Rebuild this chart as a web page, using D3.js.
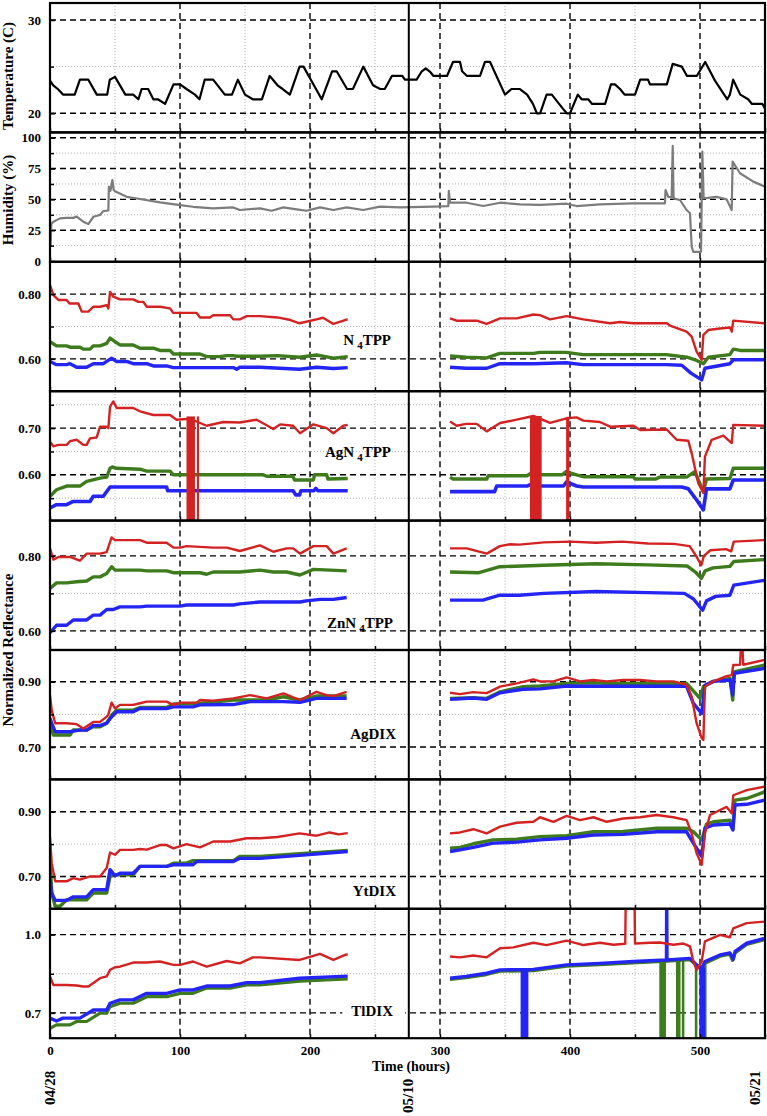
<!DOCTYPE html>
<html><head><meta charset="utf-8">
<script src="https://cdn.jsdelivr.net/npm/d3@7"></script>
<style>
body{margin:0;background:#fff}
text{font-family:"Liberation Serif","Times New Roman",serif;font-weight:bold;fill:#000}
</style>
</head><body>
<svg id="chart" width="767" height="1116"></svg>
<script>
// ---------------- DATA ----------------
const hoursMajor = [0,100,200,300,400,500];
const hoursMinor = [50,150,250,350,450,550];
const dateLabels = ['04/28','05/10','05/21'];
const dateHours = [0,275,542];
const splitHour = 276;

const tempTicks = [20,30], tempMinor = [25];
const humTicks = [0,25,50,75,100], humMinor = [12.5,37.5,62.5,87.5];
const n4Ticks = [0.60,0.80], n4Minor = [0.70];
const agn4Ticks = [0.60,0.70], agn4Minor = [0.55,0.65,0.75];
const znTicks = [0.60,0.80], znMinor = [0.70];
const agdixTicks = [0.70,0.90], agdixMinor = [0.80];
const ytTicks = [0.70,0.90], ytMinor = [0.80];
const tlTicks = [0.7,1.0], tlMinor = [0.85];

const temperature = [[0,23.5],[2.5,23.0],[6,22.6],[10,22.0],[19,22.0],[23,23.6],[29.5,23.6],[36,22.0],[44,22.0],[46,23.6],[50,23.9],[58,22.0],[64,22.0],[68,21.5],[70.5,22.6],[75.5,22.6],[79.5,21.5],[83,21.5],[88.5,21.0],[95,23.1],[100,23.1],[105,22.6],[111.5,22.0],[115,21.5],[119,23.6],[125.5,23.6],[134.5,22.0],[140,22.0],[144.5,23.6],[150,22.0],[156,21.5],[163,21.5],[169,24.0],[171.5,23.6],[175,23.0],[179,22.6],[184.5,22.0],[192,25.0],[195,25.0],[209,21.5],[217,24.5],[220.5,24.5],[228.5,22.6],[233,22.6],[241,25.0],[248.5,23.0],[254,22.6],[257.5,22.6],[263,24.0],[271,24.0],[273,23.6],[282,23.6],[286,24.5],[289,24.8],[292,24.5],[295,24.0],[305.4,24.0],[310,25.5],[315.4,25.5],[317,24.5],[320.8,24.0],[330.8,24.0],[334.6,25.5],[338.5,25.5],[350,22.0],[355,22.6],[361.5,22.6],[367,22.0],[371.5,21.0],[374.5,20.0],[377,20.0],[382,22.0],[386,22.0],[394.5,20.5],[397.5,20.0],[400,20.0],[406,22.0],[409,21.5],[414,21.5],[417,21.0],[427,21.0],[431.5,23.1],[434.5,23.1],[438.5,22.6],[442,22.0],[450,22.0],[454,23.6],[460,23.6],[461.5,23.1],[474.5,23.1],[479,25.3],[486,25.0],[490,24.0],[497.5,24.0],[504,25.5],[511.5,23.5],[521,21.5],[523,22.0],[525.5,23.6],[531,22.0],[537,21.5],[540,21.0],[548,21.0],[550,20.5]];

const humidity = [[0,33],[0.5,12],[1,30],[2.6,31.9],[7.7,34.6],[12.8,35],[17.9,35],[20.5,36],[25.6,31.9],[29.5,30],[33.3,35.9],[38.5,37.3],[41,40.5],[44.9,41],[45.3,60.3],[46.5,57],[48,65.7],[49,57.6],[50,56.6],[59,52.1],[69.2,50.3],[84.6,47.6],[100,45.4],[110,44],[125.6,42.7],[141,43.5],[146,41.4],[161.5,42.7],[170.5,40.8],[179.5,43.5],[189.7,41.9],[197.4,40.8],[207.7,43.5],[218,41.4],[228.2,43.5],[241,41.4],[253.8,44.1],[269.2,43.5],[294.9,44.1],[306.4,44.6],[306.8,57],[307.7,47.3],[320.5,47.3],[333.3,44.6],[346.2,47.3],[361.5,46],[377,45.5],[397.4,46.5],[405,44.6],[423,46],[448.7,46.8],[473,46.8],[473.5,57.6],[475.6,52],[478.2,51.5],[479,93.3],[479.7,50.8],[484.6,49.5],[489.7,41.4],[492.3,38.7],[493.6,11.6],[494.9,7.5],[500.8,7.5],[501.8,88.7],[502.8,50.8],[512.8,52],[520.5,50],[524.4,41.4],[525.1,80.6],[530.8,71.2],[541,64.4],[550,60.3]];

// N4TPP
const n4Red = [[0,0.828],[2.6,0.797],[6.4,0.782],[12.8,0.782],[15,0.771],[21.8,0.771],[24.4,0.746],[29.5,0.746],[33.3,0.761],[38.5,0.761],[43.6,0.766],[44.9,0.756],[46.2,0.807],[48.7,0.792],[53.8,0.784],[64,0.784],[68,0.776],[71.8,0.776],[74.4,0.761],[84.6,0.761],[92.3,0.756],[94.9,0.742],[112.8,0.742],[115.4,0.728],[123,0.728],[125.6,0.735],[138.5,0.735],[141,0.722],[146,0.722],[151.3,0.732],[161.5,0.732],[175,0.728],[185,0.72],[192,0.710],[205,0.722],[210,0.727],[218,0.708],[227,0.72],[229,0.722],[268,null],[307.7,0.725],[312.8,0.718],[328.2,0.718],[335.9,0.708],[346.2,0.725],[359,0.725],[371.8,0.737],[376.9,0.735],[384.6,0.722],[397.4,0.732],[410.3,0.722],[430.8,0.710],[438.5,0.714],[448.7,0.710],[474.4,0.710],[476.9,0.703],[489.7,0.684],[493.6,0.669],[497.4,0.622],[501.3,0.597],[502.6,0.674],[506.4,0.689],[515.4,0.694],[523.1,0.697],[524.4,0.684],[525.6,0.718],[550,0.710]];
const n4Green = [[0,0.653],[5,0.640],[12.8,0.640],[15.4,0.636],[23,0.636],[25.6,0.630],[30.8,0.630],[33.3,0.640],[38.5,0.640],[43.6,0.648],[46.2,0.664],[50,0.653],[53.8,0.643],[64,0.643],[69.2,0.633],[79.5,0.633],[84.6,0.626],[92.3,0.626],[94.9,0.615],[115.4,0.615],[120.5,0.607],[130.8,0.607],[135.9,0.610],[141,0.610],[143.6,0.608],[161.5,0.608],[175,0.61],[192,0.605],[205,0.612],[218,0.602],[229,0.607],[268,null],[307.7,0.609],[320,0.605],[336,0.603],[346,0.617],[372,0.617],[377,0.620],[397,0.620],[410,0.613],[474,0.613],[490,0.605],[497.4,0.595],[502.6,0.585],[506.4,0.605],[523,0.613],[525.6,0.630],[531,0.626],[550,0.626]];
const n4Blue = [[0,0.592],[5,0.582],[12.8,0.582],[15.4,0.585],[20.5,0.574],[28.2,0.574],[33.3,0.585],[41,0.585],[43.6,0.592],[47.4,0.602],[51,0.592],[59,0.592],[64,0.585],[74.4,0.585],[79.5,0.578],[89.7,0.578],[94.9,0.573],[141,0.573],[143.6,0.568],[146,0.574],[161.5,0.574],[192,0.568],[205,0.574],[218,0.570],[229,0.573],[268,null],[307.7,0.574],[320,0.571],[336,0.571],[346,0.585],[372,0.585],[397,0.588],[410,0.582],[474,0.582],[486,0.580],[493,0.556],[501.3,0.535],[503.8,0.571],[523,0.585],[525.6,0.597],[550,0.597]];

// AgN4TPP
const agn4Red = [[0,0.671],[2.6,0.661],[6.4,0.664],[12.8,0.664],[15.4,0.672],[20.5,0.675],[25.6,0.664],[28.2,0.664],[30.8,0.678],[35.9,0.680],[38.5,0.703],[43.6,0.703],[44.9,0.700],[46.2,0.746],[48.7,0.757],[51.3,0.743],[64,0.743],[69.2,0.736],[79.5,0.728],[92.3,0.728],[97.4,0.718],[107.7,0.720],[120.5,0.705],[133.3,0.713],[146,0.712],[159,0.718],[171.8,0.698],[177,0.708],[187,0.705],[192.3,0.689],[202.6,0.708],[212.8,0.700],[218,0.689],[225.6,0.705],[229,0.707],[268,null],[307.7,0.714],[312.8,0.705],[320,0.709],[328.2,0.709],[335.9,0.693],[346.2,0.711],[359,0.718],[371.8,0.726],[384.6,0.711],[397.4,0.721],[405,0.723],[410.3,0.716],[423,0.713],[430.8,0.703],[448.7,0.705],[454,0.696],[474.4,0.697],[482,0.675],[491,0.673],[493.6,0.646],[498.7,0.582],[502.6,0.561],[503.8,0.639],[509,0.675],[517.9,0.684],[524.4,0.668],[525.6,0.707],[550,0.705]];
const agn4Green = [[0,0.554],[5,0.568],[12.8,0.576],[23,0.576],[28.2,0.586],[38.5,0.593],[43.6,0.595],[46.2,0.614],[48,0.617],[51,0.614],[69.2,0.612],[74.4,0.608],[92.3,0.608],[94.9,0.600],[164,0.600],[166.7,0.597],[187,0.597],[188,0.589],[202.6,0.589],[203.5,0.600],[212.8,0.600],[213.8,0.591],[229,0.592],[268,null],[307.7,0.595],[310,0.591],[336,0.591],[337,0.598],[367,0.598],[371.8,0.607],[376.9,0.600],[394,0.600],[397,0.607],[405,0.600],[410.3,0.596],[448.7,0.596],[450,0.591],[466,0.591],[469,0.595],[489.7,0.595],[496,0.607],[502.6,0.564],[505,0.591],[523,0.592],[525.6,0.614],[550,0.614]];
const agn4Blue = [[0,0.529],[5,0.536],[12.8,0.536],[17.9,0.543],[30.8,0.543],[33.3,0.554],[41,0.554],[46.2,0.574],[89.7,0.574],[90.5,0.566],[187,0.566],[189,0.557],[192,0.557],[193,0.566],[203,0.566],[204.5,0.571],[206,0.566],[229,0.566],[268,null],[307.7,0.564],[342,0.564],[343.6,0.576],[367,0.576],[371.8,0.582],[376.9,0.576],[395,0.576],[397.4,0.585],[405,0.576],[410.3,0.574],[486,0.574],[491,0.570],[497.4,0.546],[502.6,0.525],[505,0.570],[523,0.570],[525.6,0.589],[550,0.589]];
const agn4RedDrops = [[105,111.5,0.725],[113,114.6,0.725],[369.2,378.2,0.726],[397,399.5,0.724]];

// ZnN4TPP
const znRed = [[0,0.820],[2.6,0.790],[6.4,0.797],[15.4,0.797],[23,0.787],[28.2,0.806],[38.5,0.806],[43.6,0.810],[44.9,0.824],[47.4,0.849],[50,0.842],[69.2,0.842],[74.4,0.835],[89.7,0.835],[94.9,0.822],[100,0.822],[105,0.826],[115.4,0.824],[125.6,0.822],[136,0.822],[146,0.813],[161.5,0.828],[171.8,0.811],[182,0.820],[187,0.820],[192.3,0.806],[202.6,0.826],[212.8,0.826],[218,0.806],[228.2,0.820],[268,null],[307.7,0.820],[320.5,0.820],[336,0.806],[346,0.826],[354,0.831],[361,0.830],[380,0.836],[400,0.838],[420,0.835],[440,0.838],[460,0.833],[480,0.832],[492,0.826],[497,0.800],[501,0.775],[503,0.800],[508,0.815],[520,0.818],[524,0.812],[526,0.838],[550,0.842]];
const znGreen = [[0,0.713],[5,0.728],[12.8,0.728],[20.5,0.731],[28.2,0.733],[33.3,0.744],[38.5,0.744],[43.6,0.753],[47.4,0.771],[50,0.762],[69.2,0.762],[74.4,0.760],[89.7,0.760],[94.9,0.755],[115.4,0.755],[120.5,0.751],[125.6,0.757],[146,0.757],[161.5,0.762],[171.8,0.757],[182,0.757],[192.3,0.749],[202.6,0.764],[228.2,0.760],[268,null],[307.7,0.757],[330,0.755],[346,0.771],[380,0.775],[420,0.779],[460,0.776],[490,0.773],[497,0.755],[501,0.740],[504,0.760],[510,0.768],[523,0.772],[526,0.785],[550,0.790]];
const znBlue = [[0,0.595],[5,0.615],[12.8,0.615],[17.9,0.629],[28.2,0.629],[33.3,0.642],[38.5,0.642],[43.6,0.657],[48.7,0.657],[53.8,0.664],[69.2,0.664],[74.4,0.666],[100,0.666],[105,0.669],[141,0.669],[146,0.672],[161.5,0.677],[192.3,0.677],[197,0.680],[207.7,0.684],[218,0.684],[228.2,0.689],[268,null],[307.7,0.682],[333,0.682],[346,0.695],[361,0.695],[380,0.700],[420,0.705],[460,0.702],[488,0.700],[495,0.685],[502,0.655],[505,0.680],[512,0.692],[523,0.695],[526,0.722],[550,0.735]];

// AgDIX
const agdixRed = [[0,0.859],[1.3,0.813],[4,0.773],[12.8,0.773],[20.5,0.770],[25.6,0.757],[33.3,0.777],[38.5,0.777],[43.6,0.793],[44.9,0.800],[47.4,0.836],[50,0.818],[53.8,0.829],[64,0.829],[69.2,0.834],[74.4,0.839],[89.7,0.839],[94.9,0.829],[100,0.836],[112.8,0.836],[115.4,0.844],[125.6,0.842],[141,0.849],[153.8,0.859],[166.7,0.849],[179.5,0.864],[192.3,0.844],[205,0.869],[212.8,0.859],[218,0.856],[228.2,0.869],[268,null],[307.7,0.866],[315.4,0.862],[325.6,0.868],[335.9,0.865],[346.2,0.885],[359,0.895],[371.8,0.907],[376.9,0.901],[387.2,0.901],[397.4,0.913],[407.7,0.901],[418,0.905],[428.2,0.901],[441,0.905],[453.8,0.905],[466.7,0.901],[479.5,0.901],[489.7,0.890],[493.6,0.854],[497.4,0.773],[501.3,0.727],[502.6,0.722],[503.8,0.885],[510.3,0.901],[520.5,0.917],[524.4,0.920],[525.6,0.951],[530.8,0.952],[532,1.05],[533.3,0.952],[550,0.967]];
const agdixGreen = [[0,0.773],[2.6,0.737],[15.4,0.737],[17.9,0.752],[28.2,0.752],[33.3,0.762],[38.5,0.762],[43.6,0.773],[47.4,0.798],[51.3,0.813],[64,0.813],[69.2,0.821],[89.7,0.821],[94.9,0.832],[105,0.832],[115.4,0.834],[141,0.844],[166.7,0.844],[179.5,0.854],[192.3,0.844],[205,0.856],[228.2,0.856],[268,null],[307.7,0.849],[325.6,0.851],[335.9,0.849],[346.2,0.869],[364,0.885],[376.9,0.887],[397.4,0.895],[415.4,0.897],[428.2,0.895],[489.7,0.895],[494.9,0.872],[500,0.849],[502.6,0.885],[510.3,0.901],[523.1,0.910],[525.2,0.844],[526,0.930],[550,0.951]];
const agdixBlue = [[0,0.788],[1.3,0.773],[4,0.747],[15.4,0.747],[23,0.752],[28.2,0.752],[33.3,0.766],[38.5,0.766],[43.6,0.773],[47.4,0.793],[51.3,0.808],[64,0.808],[69.2,0.818],[89.7,0.818],[94.9,0.823],[110,0.823],[115.4,0.829],[141,0.830],[153.8,0.839],[179.5,0.839],[192.3,0.837],[205,0.849],[228.2,0.849],[268,null],[307.7,0.846],[325.6,0.850],[335.9,0.846],[346.2,0.866],[364,0.877],[376.9,0.878],[397.4,0.887],[415.4,0.886],[489.7,0.886],[494.9,0.834],[501.3,0.803],[503.8,0.889],[510.3,0.901],[523.1,0.905],[525.2,0.859],[526.5,0.926],[550,0.941]];

// YtDIX
const ytRed = [[0,0.823],[1.3,0.741],[4,0.685],[12.8,0.685],[17.9,0.695],[23,0.690],[30.8,0.700],[38.5,0.700],[43.6,0.726],[46.2,0.774],[50,0.767],[53.8,0.782],[64,0.782],[69.2,0.785],[74.4,0.783],[84.6,0.797],[89.7,0.797],[94.9,0.787],[105,0.800],[115.4,0.790],[125.6,0.808],[138.5,0.808],[151.3,0.818],[161.5,0.818],[175,0.822],[192,0.833],[205,0.826],[215,0.836],[222,0.830],[229,0.834],[268,null],[307.7,0.833],[315.4,0.836],[325.6,0.846],[335.9,0.833],[346.2,0.854],[359,0.866],[371.8,0.869],[376.9,0.883],[387.2,0.869],[397.4,0.887],[407.7,0.874],[418,0.883],[428.2,0.869],[441,0.879],[453.8,0.883],[466.7,0.890],[479.5,0.883],[489.7,0.874],[493.6,0.833],[497.4,0.772],[501.3,0.736],[503.8,0.833],[507.7,0.890],[520.5,0.915],[524.4,0.895],[525.6,0.951],[536,0.967],[550,0.978]];
const ytGreen = [[0,0.762],[1.3,0.649],[4,0.608],[7.7,0.608],[12.8,0.628],[28.2,0.628],[33.3,0.649],[43.6,0.649],[46.2,0.700],[48.7,0.705],[64,0.705],[69.2,0.731],[89.7,0.731],[94.9,0.741],[105,0.741],[110,0.749],[141,0.749],[146,0.762],[161.5,0.762],[192,0.770],[229,0.780],[268,null],[307.7,0.787],[315.4,0.790],[325.6,0.801],[341,0.813],[359,0.815],[376.9,0.823],[397.4,0.826],[418,0.838],[441,0.839],[466.7,0.849],[489.7,0.849],[494.9,0.838],[501.3,0.813],[505,0.862],[510.3,0.869],[523.1,0.874],[525.3,0.845],[526.9,0.936],[536,0.941],[550,0.962]];
const ytBlue = [[0,0.695],[1.3,0.649],[4,0.626],[12.8,0.626],[17.9,0.637],[28.2,0.637],[33.3,0.659],[43.6,0.659],[46.2,0.721],[50,0.702],[53.8,0.710],[64,0.710],[69.2,0.731],[89.7,0.731],[94.9,0.736],[110,0.736],[112.8,0.746],[141,0.746],[146,0.756],[161.5,0.756],[192,0.765],[229,0.777],[268,null],[307.7,0.777],[315.4,0.782],[325.6,0.790],[341,0.803],[359,0.806],[376.9,0.813],[397.4,0.818],[418,0.828],[441,0.830],[466.7,0.838],[489.7,0.838],[494.9,0.803],[501.3,0.762],[503.8,0.849],[510.3,0.859],[523.1,0.862],[525.3,0.844],[526.9,0.921],[536,0.923],[550,0.936]];

// TlDIX
const tlRed = [[0,0.839],[2.6,0.807],[12.8,0.807],[20.5,0.805],[25.6,0.801],[29.5,0.801],[38.5,0.833],[43.6,0.840],[46.2,0.865],[50,0.875],[53.8,0.877],[64,0.893],[74.4,0.893],[84.6,0.897],[94.9,0.884],[100,0.884],[110,0.897],[120.5,0.877],[135.9,0.899],[146,0.890],[156,0.913],[161.5,0.913],[192,0.903],[207.7,0.926],[218,0.903],[227,0.922],[229,0.925],[268,null],[307.7,0.916],[315.4,0.913],[325.6,0.920],[335.9,0.913],[346.2,0.948],[356.4,0.951],[371.8,0.969],[382,0.960],[397.4,0.977],[410.3,0.960],[423,0.969],[433.3,0.961],[442.5,0.965],[443,1.2],[449.5,1.2],[450,0.966],[461.5,0.969],[469.2,0.970],[479.5,0.961],[487.2,0.966],[492.3,0.955],[494.9,0.897],[497.4,0.865],[501.3,0.897],[503.8,0.974],[515.4,0.999],[523,0.990],[525.6,1.024],[535.9,1.044],[550,1.050]];
const tlGreen = [[0,0.641],[5,0.654],[15.4,0.654],[20.5,0.667],[28.2,0.667],[38.5,0.699],[43.6,0.699],[46.2,0.724],[53.8,0.737],[64,0.737],[74.4,0.762],[89.7,0.762],[100,0.775],[110,0.775],[120.5,0.795],[138.5,0.795],[151.3,0.807],[161.5,0.807],[192,0.822],[229,0.830],[268,null],[307.7,0.828],[320,0.835],[335.9,0.847],[346.2,0.860],[371.8,0.862],[397.4,0.879],[423,0.885],[448.7,0.892],[474.4,0.898],[492.3,0.904],[497.4,0.882],[501.3,0.866],[503.8,0.890],[515.4,0.917],[523,0.925],[525,0.901],[527,0.930],[535.9,0.962],[550,0.981]];
const tlBlue = [[0,0.680],[5,0.669],[10,0.680],[23,0.680],[33.3,0.711],[43.6,0.711],[46.2,0.737],[53.8,0.750],[64,0.750],[74.4,0.775],[89.7,0.775],[100,0.788],[110,0.788],[120.5,0.803],[138.5,0.803],[151.3,0.816],[161.5,0.816],[192,0.833],[229,0.841],[268,null],[307.7,0.833],[320,0.840],[335.9,0.852],[346.2,0.865],[371.8,0.867],[397.4,0.884],[423,0.890],[448.7,0.897],[474.2,0.903],[474.4,1.2],[474.6,0.903],[492.3,0.909],[497.4,0.884],[501.3,0.871],[503.8,0.897],[515.4,0.922],[523,0.930],[525.6,0.906],[527,0.936],[535.9,0.967],[550,0.986]];
const tlBlueDrops = [[362,368,0.862],[499.5,504,0.875]];
const tlGreenDrops = [[468.7,473.8,0.895],[481.5,485,0.900],[486,488,0.900],[496,498,0.885],[503.5,505,0.890]];

// ---------------- LAYOUT ----------------
const RED = '#d42222', GREEN = '#3d7b1c', BLUE = '#2424f4';
const svg = d3.select('#chart');
const left = 50, right = 765, top0 = 3, ph = 129.4;
const x = d3.scaleLinear().domain([0,550]).range([left,right]);

const panels = [
  {domain:[17.95,31.82], ticks:tempTicks, minor:tempMinor, fmt:d3.format('d'),
   series:[{data:temperature,color:'#000',w:2.2}]},
  {domain:[-0.6,104.3], ticks:humTicks, minor:humMinor, fmt:d3.format('d'),
   series:[{data:humidity,color:'#7c7c7c',w:2.2}]},
  {domain:[0.50,0.90], ticks:n4Ticks, minor:n4Minor, fmt:d3.format('.2f'), label:['N','4','TPP'], lx:391, ly:83.5,
   series:[{data:n4Green,color:GREEN,w:3.4},{data:n4Blue,color:BLUE,w:3.4},{data:n4Red,color:RED,w:2.4}]},
  {domain:[0.502,0.779], ticks:agn4Ticks, minor:agn4Minor, fmt:d3.format('.2f'), label:['AgN','4','TPP'], lx:391, ly:65.5,
   series:[{data:agn4Green,color:GREEN,w:3.4},{data:agn4Blue,color:BLUE,w:3.6},{data:agn4Red,color:RED,w:2.4,drops:agn4RedDrops}]},
  {domain:[0.549,0.894], ticks:znTicks, minor:znMinor, fmt:d3.format('.2f'), label:['ZnN','4','TPP'], lx:393, ly:107,
   series:[{data:znGreen,color:GREEN,w:3.4},{data:znBlue,color:BLUE,w:3.4},{data:znRed,color:RED,w:2.4}]},
  {domain:[0.601,0.997], ticks:agdixTicks, minor:agdixMinor, fmt:d3.format('.2f'), label:['AgDIX'], lx:396, ly:89,
   series:[{data:agdixGreen,color:GREEN,w:3.4},{data:agdixBlue,color:BLUE,w:3.4},{data:agdixRed,color:RED,w:2.4}]},
  {domain:[0.60,1.00], ticks:ytTicks, minor:ytMinor, fmt:d3.format('.2f'), label:['YtDIX'], lx:396, ly:116.5,
   series:[{data:ytGreen,color:GREEN,w:3.4},{data:ytBlue,color:BLUE,w:3.4},{data:ytRed,color:RED,w:2.4}]},
  {domain:[0.603,1.099], ticks:tlTicks, minor:tlMinor, fmt:d3.format('.1f'), label:['TlDIX'], lx:393, ly:107, labelBg:true,
   series:[{data:tlGreen,color:GREEN,w:3.2,drops:tlGreenDrops},{data:tlBlue,color:BLUE,w:3.4,drops:tlBlueDrops},{data:tlRed,color:RED,w:2.4}]}
];

panels.forEach((p,i) => {
  const top = top0 + i*ph, bottom = top + ph;
  const y = d3.scaleLinear().domain(p.domain).range([bottom, top]);
  const g = svg.append('g');
  const clipId = 'clip'+i;
  svg.append('clipPath').attr('id',clipId).append('rect')
    .attr('x',left).attr('y',top).attr('width',right-left).attr('height',ph);
  const grid = g.append('g');
  grid.selectAll('.my').data(p.minor).enter().append('line')
    .attr('x1',left).attr('x2',right).attr('y1',d=>y(d)).attr('y2',d=>y(d))
    .attr('stroke','#b0b0b0').attr('stroke-width',1).attr('stroke-dasharray','1,2');
  grid.selectAll('.mx').data(hoursMinor).enter().append('line')
    .attr('x1',d=>x(d)).attr('x2',d=>x(d)).attr('y1',top).attr('y2',bottom)
    .attr('stroke','#b0b0b0').attr('stroke-width',1).attr('stroke-dasharray','1,2');
  grid.selectAll('.My').data(p.ticks.filter(v=>y(v)>top+2 && y(v)<bottom-2)).enter().append('line')
    .attr('x1',left).attr('x2',right).attr('y1',d=>y(d)).attr('y2',d=>y(d))
    .attr('stroke','#000').attr('stroke-width',1.4).attr('stroke-dasharray','6,4');
  grid.selectAll('.Mx').data(hoursMajor.filter(h=>h>0)).enter().append('line')
    .attr('x1',d=>x(d)).attr('x2',d=>x(d)).attr('y1',top).attr('y2',bottom)
    .attr('stroke','#000').attr('stroke-width',1.4).attr('stroke-dasharray','6,4');

  const labelG = g.append('g');
  const dataG = g.append('g').attr('clip-path',`url(#${clipId})`);
  p.series.forEach(s => {
    const line = d3.line().defined(d=>d[1]!==null).x(d=>x(d[0])).y(d=>y(d[1]));
    dataG.append('path').datum(s.data).attr('d',line)
      .attr('fill','none').attr('stroke',s.color).attr('stroke-width',s.w)
      .attr('stroke-linejoin','round');
    if (s.drops) {
      dataG.selectAll(null).data(s.drops).enter().append('rect')
        .attr('x',d=>x(d[0])).attr('width',d=>Math.max(1.5,x(d[1])-x(d[0])))
        .attr('y',d=>y(d[2])).attr('height',d=>bottom-y(d[2]))
        .attr('fill',s.color);
    }
  });

  g.append('line').attr('x1',x(splitHour)).attr('x2',x(splitHour)).attr('y1',top).attr('y2',bottom)
    .attr('stroke','#000').attr('stroke-width',2);

  const ax = g.append('g').attr('transform',`translate(${left},0)`)
    .call(d3.axisLeft(y).tickValues(p.ticks).tickFormat(p.fmt).tickSize(-5).tickPadding(9));
  ax.select('.domain').remove();
  ax.selectAll('line').attr('stroke','#000').attr('stroke-width',1.5);
  ax.selectAll('text').style('font-size','13px').style('font-family','"Liberation Serif",serif').style('font-weight','bold');
  const axm = g.append('g').attr('transform',`translate(${left},0)`)
    .call(d3.axisLeft(y).tickValues(p.minor).tickFormat('').tickSize(-4));
  axm.select('.domain').remove();
  axm.selectAll('line').attr('stroke','#000').attr('stroke-width',1.5);
  const axb = g.append('g').attr('transform',`translate(0,${bottom})`)
    .call(d3.axisBottom(x).tickValues(hoursMinor.concat(hoursMajor)).tickFormat('').tickSize(-4));
  axb.select('.domain').remove();
  axb.selectAll('line').attr('stroke','#000').attr('stroke-width',1.5);

  if (p.label) {
    const lg = p.labelBg ? g.append('g') : labelG;
    const bgRect = p.labelBg ? lg.append('rect').attr('fill','#fff') : null;
    const t = lg.append('text').attr('x',p.lx).attr('y',top+p.ly)
      .attr('text-anchor','end').style('font-size','15px');
    t.append('tspan').text(p.label[0]);
    if (p.label.length>1) {
      t.append('tspan').attr('dx',3).attr('dy',4).style('font-size','11px').text(p.label[1]);
      t.append('tspan').attr('dy',-4).style('font-size','15px').text(p.label[2]);
    }
    if (bgRect) {
      const bb = t.node().getBBox();
      bgRect.attr('x',bb.x-9).attr('y',bb.y+2).attr('width',bb.width+21).attr('height',bb.height-3);
    }
  }

  g.append('rect').attr('x',left).attr('y',top).attr('width',right-left).attr('height',ph)
    .attr('fill','none').attr('stroke','#000').attr('stroke-width',2.2);
});

const lastBottom = top0 + panels.length*ph;
const xa = svg.append('g').attr('transform',`translate(0,${lastBottom})`)
  .call(d3.axisBottom(x).tickValues(hoursMajor).tickFormat(d3.format('d')).tickSize(0).tickPadding(8));
xa.select('.domain').remove();
xa.selectAll('text').style('font-size','13px').style('font-family','"Liberation Serif",serif').style('font-weight','bold');

svg.append('text').attr('x',411).attr('y',1071).attr('text-anchor','middle')
  .style('font-size','14px').text('Time (hours)');

const dateY = [1105,1113,1105];
dateLabels.forEach((lab,i) => {
  svg.append('text')
    .attr('transform',`translate(${x(dateHours[i])},${dateY[i]}) rotate(-90)`)
    .attr('dy','0.35em').attr('text-anchor','start')
    .style('font-size','15px').text(lab);
});

const yTitles = [['Temperature (C)',76],['Humidity (%)',200],['Normalized Reflectance',650]];
yTitles.forEach(([t,cy]) => {
  svg.append('text').attr('transform',`translate(13,${cy}) rotate(-90)`)
    .attr('text-anchor','middle').style('font-size','15px').text(t);
});
</script>
</body></html>
